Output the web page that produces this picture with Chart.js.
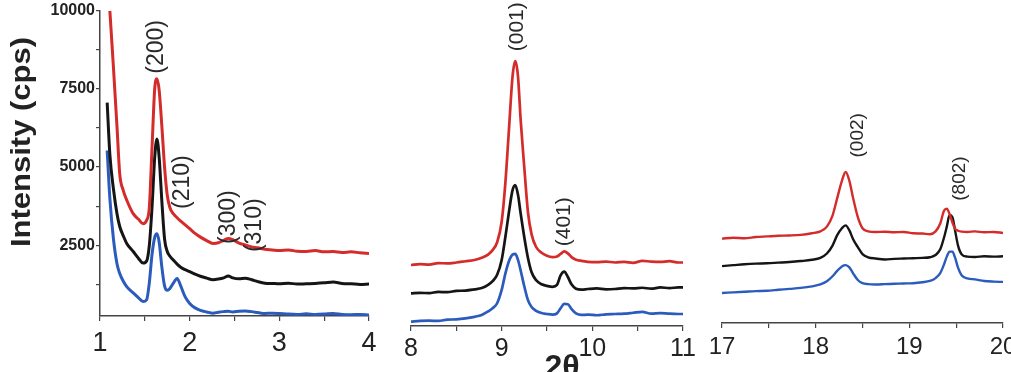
<!DOCTYPE html>
<html>
<head>
<meta charset="utf-8">
<script src="https://cdn.jsdelivr.net/npm/chart.js@4.4.1/dist/chart.umd.min.js"></script>
<style>
  body { margin: 0; background: #fff; }
  #wrap { position: relative; width: 1011px; height: 372px; overflow: hidden; }
  #wrap canvas { position: absolute; left: 0; top: 0; }
</style>
</head>
<body>
<div id="wrap">
  <canvas id="panel1" width="1011" height="372"></canvas>
  <canvas id="panel2" width="1011" height="372"></canvas>
  <canvas id="panel3" width="1011" height="372"></canvas>
</div>
<script>
// ---- data: three 2θ windows, three samples each (intensity in cps) ----
var twoTheta1 = [1.08, 1.11, 1.15, 1.19, 1.22, 1.26, 1.30, 1.37, 1.43, 1.48, 1.52, 1.55, 1.58, 1.61, 1.635, 1.66, 1.69, 1.72, 1.75, 1.78,
                 1.82, 1.86, 1.90, 1.95, 2.00, 2.06, 2.12, 2.19, 2.26, 2.32, 2.38, 2.43, 2.48, 2.55, 2.62, 2.69, 2.76, 2.84, 2.92, 3.00,
                 3.10, 3.20, 3.30, 3.40, 3.50, 3.60, 3.70, 3.80, 3.90, 4.00];
var red1   = [null, 9990, 8180, 6270, 4780, 4250, 3930, 3510, 3330, 3190, 3300, 3700, 5600, 7500, 7820, 7450, 6300, 5000, 4100, 3700,
              3500, 3380, 3270, 3150, 3030, 2880, 2760, 2650, 2560, 2580, 2660, 2720, 2680, 2570, 2510, 2450, 2420, 2370, 2350, 2330,
              2350, 2310, 2300, 2330, 2290, 2300, 2270, 2290, 2260, 2240];
var black1 = [7060, 5400, 4300, 3500, 3100, 2800, 2550, 2300, 2080, 1930, 2000, 2500, 3700, 5300, 5900, 5300, 3900, 2700, 2300, 2150,
              2020, 1900, 1800, 1720, 1660, 1580, 1510, 1450, 1400, 1420, 1460, 1520, 1460, 1430, 1450, 1400, 1340, 1290, 1280, 1270,
              1290, 1260, 1270, 1280, 1300, 1330, 1280, 1270, 1250, 1260];
var blue1  = [5530, 4000, 2700, 1900, 1600, 1350, 1170, 980, 820, 700, 760, 1300, 2200, 2750, 2870, 2600, 1800, 1200, 1060, 1120,
              1300, 1440, 1200, 850, 640, 500, 420, 370, 330, 360, 380, 390, 370, 390, 400, 380, 350, 320, 330, 320,
              300, 290, 310, 290, 300, 320, 290, 280, 290, 270];

var twoTheta2 = [8.00, 8.10, 8.20, 8.30, 8.40, 8.50, 8.60, 8.70, 8.78, 8.85, 8.90, 8.95, 9.00, 9.04, 9.08, 9.12, 9.15, 9.18, 9.21, 9.25,
                 9.29, 9.33, 9.38, 9.44, 9.50, 9.56, 9.61, 9.65, 9.69, 9.73, 9.77, 9.82, 9.88, 9.95, 10.05, 10.15, 10.25, 10.35, 10.45, 10.55,
                 10.65, 10.75, 10.85, 10.95, 11.00];
var red2   = [1930, 1960, 1940, 1990, 1980, 2010, 2050, 2090, 2160, 2260, 2400, 2650, 3300, 4500, 6200, 7900, 8380, 7900, 6500, 5000,
              3600, 2900, 2500, 2320, 2220, 2180, 2200, 2280, 2360, 2300, 2180, 2100, 2060, 2030, 2020, 2040, 2010, 2030, 2000, 2060,
              2040, 2030, 2050, 2010, 2010];
var black2 = [1030, 1050, 1040, 1080, 1070, 1110, 1120, 1160, 1200, 1300, 1420, 1620, 2090, 2800, 3600, 4300, 4460, 4150, 3550, 2800,
              2150, 1700, 1450, 1320, 1270, 1240, 1300, 1600, 1720, 1550, 1320, 1180, 1150, 1170, 1190, 1160, 1170, 1200, 1190, 1210,
              1180, 1220, 1200, 1220, 1220];
var blue2  = [140, 160, 170, 160, 200, 210, 240, 290, 350, 460, 560, 720, 1140, 1650, 2050, 2260, 2280, 2090, 1750, 1250,
              820, 600, 480, 410, 380, 360, 400, 560, 700, 690, 540, 400, 350, 360, 340, 370, 380, 390, 420, 450,
              390, 410, 390, 380, 380];

var twoTheta3 = [17.00, 17.12, 17.24, 17.36, 17.48, 17.60, 17.72, 17.84, 17.96, 18.05, 18.12, 18.18, 18.23, 18.28, 18.32, 18.36, 18.40, 18.45, 18.50, 18.56,
                 18.64, 18.74, 18.84, 18.94, 19.04, 19.14, 19.22, 19.28, 19.33, 19.37, 19.40, 19.43, 19.46, 19.49, 19.52, 19.56, 19.62, 19.70, 19.80, 19.90,
                 20.00];
var red3   = [2670, 2700, 2680, 2720, 2740, 2760, 2770, 2790, 2840, 2900, 3050, 3400, 3950, 4500, 4780, 4500, 3950, 3350, 3000, 2900,
              2880, 2890, 2870, 2880, 2840, 2830, 2810, 2900, 3150, 3550, 3620, 3450, 3180, 2980, 2920, 2890, 2880, 2900, 2870, 2880,
              2850];
var black3 = [1800, 1830, 1860, 1880, 1890, 1910, 1930, 1960, 2000, 2060, 2200, 2450, 2780, 3000, 3090, 2930, 2650, 2400, 2180, 2080,
              2040, 2010, 2030, 2040, 2050, 2060, 2080, 2150, 2330, 2700, 3050, 3420, 3350, 2900, 2450, 2170, 2100, 2090, 2110, 2100,
              2110];
var blue3  = [950, 970, 990, 1010, 1020, 1050, 1080, 1110, 1160, 1220, 1320, 1480, 1650, 1790, 1830, 1760, 1570, 1360, 1260, 1230,
              1220, 1230, 1240, 1250, 1260, 1290, 1330, 1420, 1580, 1850, 2100, 2260, 2260, 2050, 1750, 1500, 1410, 1380, 1330, 1310,
              1300];

// reflection labels (text, 2θ, intensity where the label is centred)
var peakText1 = ['(200)', '(210)', '(300)', '(310)'];
var peakAt1   = [1.63, 1.92, 2.43, 2.73];
var peakY1    = [8840, 4520, 3400, 3140];
var peakText2 = ['(001)', '(401)'];
var peakAt2   = [9.17, 9.69];
var peakY2    = [9470, 3300];
var peakText3 = ['(002)', '(802)'];
var peakAt3   = [18.45, 19.54];
var peakY3    = [5940, 4570];

// axis ticks
var xTicks1 = [1, 1.5, 2, 2.5, 3, 3.5, 4];
var xTicks2 = [8, 8.5, 9, 9.5, 10, 10.5, 11];
var xTicks3 = [17, 17.5, 18, 18.5, 19, 19.5, 20];
var yTicks1 = [1250, 2500, 3750, 5000, 6250, 7500, 8750, 10000];
var yLabelled = [2500, 5000, 7500, 10000];

var RED = '#d42b2b', BLACK = '#151515', BLUE = '#2a5bbd';
var AXIS = '#444';

function points(xs, ys) {
    var out = [];
    for (var i = 0; i < xs.length; i++) out.push({ x: xs[i], y: ys[i] });
    return out;
}

function series(xs, ys, color, width) {
    return {
        data: points(xs, ys),
        borderColor: color,
        borderWidth: width,
        pointRadius: 0,
        cubicInterpolationMode: 'monotone',
        spanGaps: false
    };
}

// rotated hkl labels drawn at data coordinates
var peakLabelPlugin = {
    id: 'peakLabels',
    afterDatasetsDraw: function (chart, args, opts) {
        var ctx = chart.ctx;
        var sx = chart.scales.x, sy = chart.scales.y;
        ctx.save();
        ctx.fillStyle = '#2a2a2a';
        ctx.font = opts.size + 'px "Liberation Sans", Arial, sans-serif';
        ctx.textAlign = 'center';
        ctx.textBaseline = 'middle';
        for (var i = 0; i < opts.texts.length; i++) {
            ctx.save();
            ctx.translate(sx.getPixelForValue(opts.xs[i]), sy.getPixelForValue(opts.ys[i]));
            ctx.rotate(-Math.PI / 2);
            ctx.fillText(opts.texts[i], 0, 0);
            ctx.restore();
        }
        ctx.restore();
    }
};

// axis titles shared by the whole figure
var titlePlugin = {
    id: 'figTitles',
    afterDraw: function (chart) {
        var ctx = chart.ctx;
        ctx.save();
        ctx.fillStyle = '#222';
        ctx.font = 'bold 27px "Liberation Sans", Arial, sans-serif';
        ctx.textAlign = 'center';
        ctx.textBaseline = 'middle';
        var w = ctx.measureText('Intensity (cps)').width;
        ctx.translate(23, 142);
        ctx.rotate(-Math.PI / 2);
        ctx.scale(210 / w, 1);
        ctx.fillText('Intensity (cps)', 0, 0);
        ctx.restore();

        ctx.save();
        ctx.fillStyle = '#222';
        ctx.font = 'bold 32px "Liberation Sans", Arial, sans-serif';
        ctx.textAlign = 'center';
        ctx.textBaseline = 'alphabetic';
        ctx.fillText('2θ', 562, 377);
        ctx.restore();
    }
};

function makePanel(id, sets, xMin, xMax, xTicks, area, fontSize, labels, showY) {
    var yScale = {
        display: showY,
        min: showY ? 240 : 0,
        max: 10000,
        afterBuildTicks: function (scale) {
            scale.ticks = yTicks1.map(function (v) { return { value: v }; });
        },
        afterFit: function (scale) { scale.width = showY ? area.left : 0; },
        border: { display: true, color: AXIS, width: 1.5 },
        grid: { drawOnChartArea: false, color: AXIS, lineWidth: 1.2, tickLength: 4 },
        ticks: {
            padding: 1,
            color: '#222',
            font: { family: '"Liberation Sans", Arial, sans-serif', size: 16, weight: 'bold' },
            callback: function (v) { return yLabelled.indexOf(v) >= 0 ? String(v) : ''; }
        }
    };
    return new Chart(document.getElementById(id), {
        type: 'line',
        data: { datasets: sets },
        options: {
            responsive: false,
            animation: false,
            events: [],
            layout: {
                padding: { left: showY ? 0 : area.left, right: 1011 - area.right, top: area.top, bottom: 0 }
            },
            plugins: {
                legend: { display: false },
                tooltip: { enabled: false },
                peakLabels: { texts: labels.texts, xs: labels.xs, ys: labels.ys, size: labels.size }
            },
            scales: {
                x: {
                    type: 'linear',
                    min: xMin,
                    max: xMax,
                    afterBuildTicks: function (scale) {
                        scale.ticks = xTicks.map(function (v) { return { value: v }; });
                    },
                    afterFit: function (scale) {
                        scale.height = 372 - area.bottom;
                        scale.paddingLeft = 0;
                        scale.paddingRight = 0;
                    },
                    border: { display: true, color: AXIS, width: 1.5 },
                    grid: { drawOnChartArea: false, color: AXIS, lineWidth: 1.2, tickLength: 5 },
                    ticks: {
                        autoSkip: false,
                        maxRotation: 0,
                        padding: area.labelGap,
                        color: '#222',
                        font: { family: '"Liberation Sans", Arial, sans-serif', size: fontSize },
                        callback: function (v) { return Number.isInteger(v) ? String(v) : ''; }
                    }
                },
                y: yScale
            }
        },
        plugins: showY ? [peakLabelPlugin, titlePlugin] : [peakLabelPlugin]
    });
}

// -------- panel 1: 1-4° --------
makePanel('panel1',
    [series(twoTheta1, red1, RED, 3), series(twoTheta1, black1, BLACK, 3), series(twoTheta1, blue1, BLUE, 3)],
    1, 4, xTicks1, { left: 100, right: 369, top: 10, bottom: 316, labelGap: 6 }, 27,
    { texts: peakText1, xs: peakAt1, ys: peakY1, size: 23 }, true);

// -------- panel 2: 8-11° --------
makePanel('panel2',
    [series(twoTheta2, red2, RED, 2.7), series(twoTheta2, black2, BLACK, 2.7), series(twoTheta2, blue2, BLUE, 2.7)],
    8, 11, xTicks2, { left: 411, right: 683, top: 10, bottom: 326, labelGap: 3 }, 25,
    { texts: peakText2, xs: peakAt2, ys: peakY2, size: 21 }, false);

// -------- panel 3: 17-20° --------
makePanel('panel3',
    [series(twoTheta3, red3, RED, 2.4), series(twoTheta3, black3, BLACK, 2.4), series(twoTheta3, blue3, BLUE, 2.4)],
    17, 20, xTicks3, { left: 722, right: 1003, top: 7, bottom: 323, labelGap: 5 }, 24,
    { texts: peakText3, xs: peakAt3, ys: peakY3, size: 19 }, false);
</script>
</body>
</html>
